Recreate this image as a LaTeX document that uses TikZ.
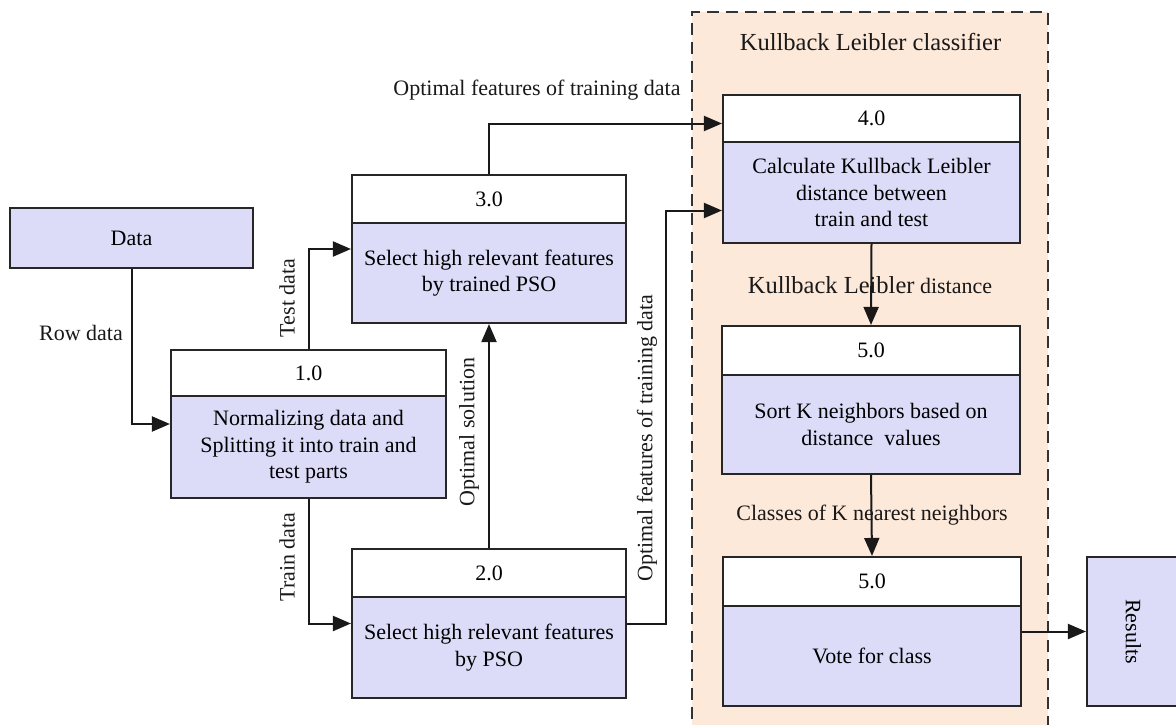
\documentclass[tikz,border=0pt]{standalone}
\usepackage{fontspec}
\setmainfont{Liberation Serif}
\usepackage{graphicx}
\usetikzlibrary{arrows.meta}
\definecolor{lav}{RGB}{220,220,248}
\definecolor{peach}{RGB}{253,233,218}
\newcommand{\bigtxt}{\fontsize{24.5}{29}\selectfont}
\begin{document}
\begin{tikzpicture}[x=1pt,y=-1pt,
  font=\fontsize{22}{26.5}\selectfont,
  box/.style={draw=black!85, line width=2.1pt, inner sep=0pt, align=center},
  hdr/.style={box, fill=white},
  bod/.style={box, fill=lav},
  arr/.style={-{Triangle[length=18pt,width=15pt]}, line width=2pt, draw=black!90},
  lbl/.style={inner sep=0pt, text=black!90}]
\useasboundingbox (0,0) rectangle (1176,725);
\clip (0,0) rectangle (1176,725);
% classifier region
\node[draw=black!80, fill=peach, line width=2.2pt, dash pattern=on 12pt off 7pt,
      minimum width=356pt, minimum height=740pt, inner sep=0pt] (kl) at (870,382) {};
\node[lbl, font=\bigtxt] (kltitle) at (870.5,42) {Kullback Leibler classifier};
% data
\node[bod, minimum width=243pt, minimum height=60pt] (data) at (131.5,238) {Data};
% 1.0
\node[hdr, minimum width=275pt, minimum height=46pt] (b1h) at (308.5,373) {1.0};
\node[bod, minimum width=275pt, minimum height=102pt] (b1b) at (308.5,447) {Normalizing data and\\Splitting it into train and\\test parts};
% 3.0
\node[hdr, minimum width=274pt, minimum height=48pt] (b3h) at (489,199) {3.0};
\node[bod, minimum width=274pt, minimum height=100pt] (b3b) at (489,273) {Select high relevant features\\by trained PSO};
% 2.0
\node[hdr, minimum width=274pt, minimum height=48pt] (b2h) at (489,573) {2.0};
\node[bod, minimum width=274pt, minimum height=101pt] (b2b) at (489,647.5) {Select high relevant features\\by PSO};
% 4.0
\node[hdr, minimum width=297pt, minimum height=47pt] (b4h) at (871.5,118.5) {4.0};
\node[bod, minimum width=297pt, minimum height=101pt] (b4b) at (871.5,192.5) {Calculate Kullback Leibler\\distance between\\train and test};
% 5.0
\node[hdr, minimum width=298pt, minimum height=49pt] (b5h) at (871,350.5) {5.0};
\node[bod, minimum width=298pt, minimum height=99pt] (b5b) at (871,424.5) {Sort K neighbors based on\\distance\ \ values};
% 5.0 (vote)
\node[hdr, minimum width=298pt, minimum height=49pt] (b6h) at (872,581.5) {5.0};
\node[bod, minimum width=298pt, minimum height=100pt] (b6b) at (872,656) {Vote for class};
% results
\node[bod, minimum width=93pt, minimum height=149pt] (res) at (1133.5,631.5) {\rotatebox{-90}{Results}};
% labels
\node[lbl] (lrow) at (81,333) {Row data};
\node[lbl, rotate=90] (ltest) at (287,298) {Test data};
\node[lbl, rotate=90] (ltrain) at (287,557) {Train data};
\node[lbl, rotate=90] (lsol) at (469,432) {Optimal solution};
\node[lbl, rotate=90] (lopt2) at (647,438) {Optimal features of training data};
\node[lbl] (lopt1) at (537,90) {Optimal features of training data};
\node[lbl] (lkld) at (870,285) {{\bigtxt Kullback Leibler} distance};
\node[lbl] (lcls) at (872,515) {Classes of K nearest neighbors};
% connectors
\draw[arr] (data.south) |- ([yshift=23pt]b1b.west);
\draw[arr] (b1h.north) |- ([yshift=24pt]b3b.west);
\draw[arr] (b1b.south) |- ([yshift=24pt]b2b.west);
\draw[arr] (b2h.north) -- (b3b.south);
\draw[arr] (b3h.north) |- ([yshift=-5pt]b4h.west);
\draw[arr] ([yshift=24pt]b2b.east) -- ++(39,0) |- ([yshift=-18pt]b4b.west);
\draw[arr] (b4b.south) -- (b5h.north);
\draw[arr] (b5b.south) -- (b6h.north);
\draw[arr] (b6b.east |- res.west) -- (res.west);
\end{tikzpicture}
\end{document}
